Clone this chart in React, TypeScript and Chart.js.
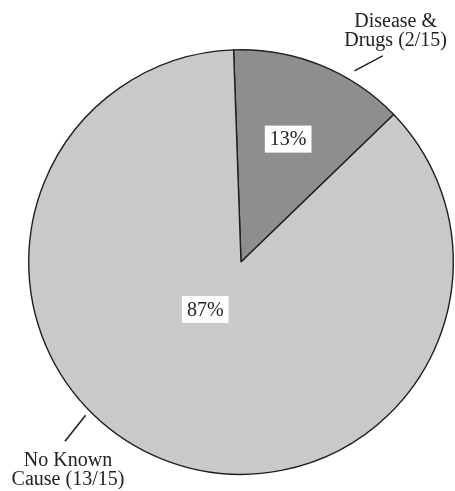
import React, { useEffect, useRef } from "react";
import { Chart, registerables } from "chart.js";

Chart.register(...registerables);

const categories = ["Disease & Drugs", "No Known Cause"];
const counts = [2, 15 - 2];
const total = 15;
const outsideLines = [
  ["Disease &", "Drugs (2/15)"],
  ["No Known", "Cause (13/15)"],
];
const sliceColors = ["#8e8e8e", "#c9c9c9"];

// label placement (polar, relative to the arc)
const pctRadiusRatio = [0.62, 0.28];
const pctAngleShift = [-1, 15];
const leaderInnerAngle = [30.7, 225.4];
const leaderOuterAngle = [34.5, 224.5];
const leaderInnerRatio = [1.047, 1.028];
const leaderOuterRatio = [1.178, 1.183];

const FONT = '"Liberation Serif", "DejaVu Serif", serif';

const labelPlugin = {
  id: "pieLabels",
  afterDraw(chart: any) {
    const ctx = chart.ctx as CanvasRenderingContext2D;
    const meta = chart.getDatasetMeta(0);
    ctx.save();
    meta.data.forEach((arc: any, i: number) => {
      const { x, y, startAngle, endAngle, outerRadius } = arc.getProps(
        ["x", "y", "startAngle", "endAngle", "outerRadius"],
        true
      );
      const r = outerRadius;
      // percentage box
      const mid = (startAngle + endAngle) / 2 + (pctAngleShift[i] * Math.PI) / 180;
      const pr = r * pctRadiusRatio[i];
      const px = x + Math.cos(mid) * pr;
      const py = y + Math.sin(mid) * pr;
      const pct = Math.round((counts[i] / total) * 100) + "%";
      ctx.font = `20px ${FONT}`;
      const tw = ctx.measureText(pct).width;
      const bw = tw + 10;
      const bh = 27;
      ctx.fillStyle = "#ffffff";
      ctx.fillRect(px - bw / 2, py - bh / 2, bw, bh);
      ctx.fillStyle = "#222222";
      ctx.textAlign = "center";
      ctx.textBaseline = "middle";
      ctx.fillText(pct, px, py + 1);

      // leader line + outside label
      const a1 = ((leaderInnerAngle[i] - 90) * Math.PI) / 180;
      const a2 = ((leaderOuterAngle[i] - 90) * Math.PI) / 180;
      const x1 = x + Math.cos(a1) * r * leaderInnerRatio[i];
      const y1 = y + Math.sin(a1) * r * leaderInnerRatio[i];
      const x2 = x + Math.cos(a2) * r * leaderOuterRatio[i];
      const y2 = y + Math.sin(a2) * r * leaderOuterRatio[i];
      ctx.strokeStyle = "#222222";
      ctx.lineWidth = 1.6;
      ctx.beginPath();
      ctx.moveTo(x1, y1);
      ctx.lineTo(x2, y2);
      ctx.stroke();

      const lines = outsideLines[i];
      const lh = 18.5;
      ctx.textBaseline = "alphabetic";
      ctx.font = `20px ${FONT}`;
      if (Math.sin(a2) < 0) {
        // label above line end
        const cx = x2 + 13;
        let by = y2 - 10;
        for (let k = lines.length - 1; k >= 0; k--) {
          ctx.fillText(lines[k], cx, by);
          by -= lh;
        }
      } else {
        const cx = x2 + 3;
        let by = y2 + 25;
        for (let k = 0; k < lines.length; k++) {
          ctx.fillText(lines[k], cx, by);
          by += lh;
        }
      }
    });
    ctx.restore();
  },
};

export default function App() {
  const ref = useRef<HTMLCanvasElement | null>(null);
  useEffect(() => {
    if (!ref.current) return;
    const chart = new Chart(ref.current, {
      type: "pie",
      data: {
        labels: categories,
        datasets: [
          {
            data: counts,
            backgroundColor: sliceColors,
            borderColor: "#1e1e1e",
            borderWidth: 1.4,
          },
        ],
      },
      options: {
        animation: false,
        responsive: true,
        maintainAspectRatio: false,
        rotation: -2,
        layout: { padding: { left: 28, right: 1, top: 49, bottom: 16 } },
        plugins: {
          legend: { display: false },
          tooltip: { enabled: false },
        },
      },
      plugins: [labelPlugin],
    });
    return () => chart.destroy();
  }, []);
  return (
    <div
      style={{
        position: "absolute",
        left: 0,
        top: 0,
        width: 455,
        height: 491,
        background: "#ffffff",
      }}
    >
      <canvas ref={ref} />
    </div>
  );
}
